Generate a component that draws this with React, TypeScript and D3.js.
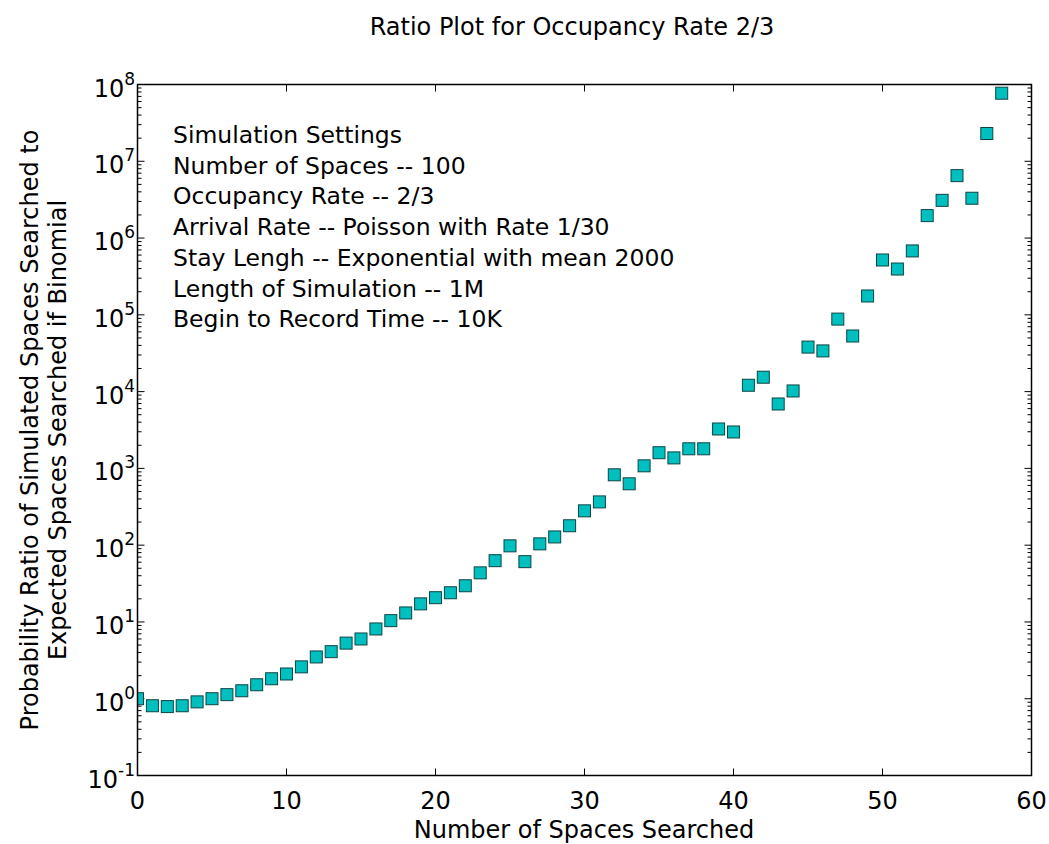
import React from "react";
import * as d3 from "d3";

const xs: number[] = d3.range(0, 59);
const ratios: number[] = [
  1.0, 0.81, 0.79, 0.81, 0.91, 1.0, 1.13, 1.27, 1.52, 1.82,
  2.1, 2.6, 3.5, 4.1, 5.3, 6.0, 8.1, 10.4, 13.1, 17.2,
  20.7, 24, 29.6, 43.6, 62.8, 98, 61, 104, 128, 179,
  280, 366, 825, 630, 1080, 1600, 1370, 1800, 1800, 3260,
  2980, 12100, 15400, 6900, 10200, 38000, 33900, 88000, 53000, 176000,
  518000, 395000, 680000, 1.96e6, 3.1e6, 6.5e6, 3.3e6, 2.3e7, 7.7e7,
];
const xTicks: number[] = [0, 10, 20, 30, 40, 50, 60];
const yExps: number[] = [-1, 0, 1, 2, 3, 4, 5, 6, 7, 8];
const settings: string[] = [
  "Simulation Settings",
  "Number of Spaces -- 100",
  "Occupancy Rate -- 2/3",
  "Arrival Rate -- Poisson with Rate 1/30",
  "Stay Lengh -- Exponential with mean 2000",
  "Length of Simulation -- 1M",
  "Begin to Record Time -- 10K",
];
const title = "Ratio Plot for Occupancy Rate 2/3";
const xLabel = "Number of Spaces Searched";
const yLabelLines = [
  "Probability Ratio of Simulated Spaces Searched to",
  "Expected Spaces Searched if Binomial",
];

const W = 1049, H = 844;
const L = 137.5, R = 1031.5, T = 84.5, B = 775.5;
const FONT = "'DejaVu Sans', sans-serif";
const FS = 24;

export default function App() {
  const x = d3.scaleLinear().domain([0, 60]).range([L, R]);
  const y = d3.scaleLog().domain([0.1, 1e8]).range([B, T]);
  const minor: number[] = [];
  for (let e = -1; e < 8; e++) for (let m = 2; m <= 9; m++) minor.push(m * Math.pow(10, e));
  const S = 12;
  return (
    <svg width={W} height={H} style={{ position: "absolute", left: 0, top: 0, background: "#fff" }} fontFamily={FONT}>
      <rect x={0} y={0} width={W} height={H} fill="#fff" />
      <text x={572} y={35} textAnchor="middle" fontSize={FS} fill="#000">{title}</text>
      {xTicks.map((t) => (
        <g key={"xt" + t}>
          <line x1={x(t)} x2={x(t)} y1={B} y2={B - 7} stroke="#000" strokeWidth={1} />
          <line x1={x(t)} x2={x(t)} y1={T} y2={T + 7} stroke="#000" strokeWidth={1} />
          <text x={x(t)} y={809} textAnchor="middle" fontSize={FS} fill="#000">{t}</text>
        </g>
      ))}
      {yExps.map((e) => {
        const yy = y(Math.pow(10, e));
        return (
          <g key={"yt" + e}>
            <line x1={L} x2={L + 7} y1={yy} y2={yy} stroke="#000" strokeWidth={1} />
            <line x1={R} x2={R - 7} y1={yy} y2={yy} stroke="#000" strokeWidth={1} />
            <text x={135} y={yy + 12} textAnchor="end" fontSize={FS} fill="#000">
              10<tspan dy={-12} fontSize={17}>{e}</tspan>
            </text>
          </g>
        );
      })}
      {minor.map((v, i) => (
        <g key={"mn" + i}>
          <line x1={L} x2={L + 4} y1={y(v)} y2={y(v)} stroke="#000" strokeWidth={1} />
          <line x1={R} x2={R - 4} y1={y(v)} y2={y(v)} stroke="#000" strokeWidth={1} />
        </g>
      ))}
      <defs>
        <clipPath id="clip"><rect x={L} y={T} width={R - L} height={B - T} /></clipPath>
      </defs>
      <g clipPath="url(#clip)">
        {xs.map((xv, i) => (
          <rect key={i} x={x(xv) - S / 2} y={y(ratios[i]) - S / 2} width={S} height={S}
            fill="#00bfbf" stroke="#0d4545" strokeWidth={1} />
        ))}
      </g>
      <rect x={L} y={T} width={R - L} height={B - T} fill="none" stroke="#000" strokeWidth={1.5} />
      {settings.map((s, i) => (
        <text key={s} x={173} y={143 + i * 30.7} fontSize={23.5} fill="#000">{s}</text>
      ))}
      <text x={584} y={838} textAnchor="middle" fontSize={FS} fill="#000">{xLabel}</text>
      {yLabelLines.map((s, i) => (
        <text key={s} transform={`translate(${38 + i * 28},${430}) rotate(-90)`} textAnchor="middle" fontSize={FS} fill="#000">{s}</text>
      ))}
    </svg>
  );
}
